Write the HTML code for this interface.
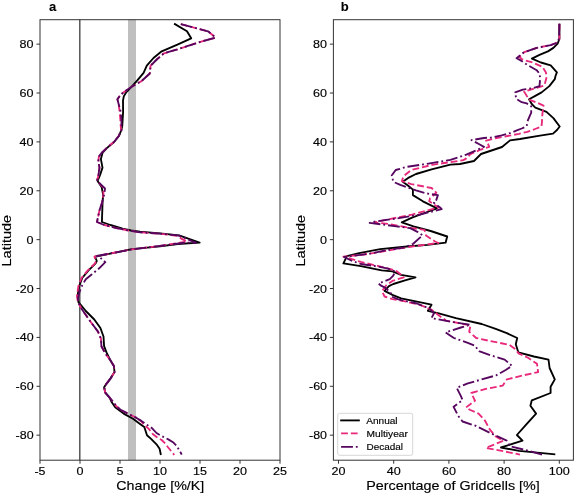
<!DOCTYPE html>
<html><head><meta charset="utf-8"><title>Latitude change</title>
<style>
html,body{margin:0;padding:0;background:#fff;width:575px;height:493px;overflow:hidden;}
svg{display:block;will-change:transform;}
text{font-family:"Liberation Sans",sans-serif;fill:#000;stroke:#000;stroke-width:0.15px;}
</style></head><body>
<svg width="575" height="493" viewBox="0 0 575 493">
<rect x="0" y="0" width="575" height="493" fill="#fff"/>
<rect x="128.0" y="19.7" width="8" height="440.5" fill="#bfbfbf"/>
<line x1="79.8" y1="19.7" x2="79.8" y2="460.2" stroke="#4a4a4a" stroke-width="1.4"/>
<g clip-path="url(#ca)">
<polyline points="174.1,23.6 187.0,31.3 191.2,38.3 177.4,44.7 161.7,51.3 153.5,58.0 146.8,65.7 143.6,72.8 137.3,80.4 131.7,86.7 126.2,92.3 123.8,96.4 123.0,100.6 123.1,111.7 122.3,125.7 121.4,129.9 118.9,136.0 114.1,142.0 106.8,148.1 102.5,153.0 100.9,159.1 102.5,167.6 100.1,174.9 97.6,181.0 101.7,187.3 103.1,194.6 102.5,204.3 101.9,222.0 110.4,225.0 122.6,228.7 131.1,230.5 140.0,231.7 160.0,233.3 179.1,235.4 199.6,242.6 177.7,244.0 160.0,246.3 131.8,249.2 98.0,256.1 95.0,256.7 96.8,261.0 95.6,263.4 88.3,270.7 82.2,278.0 79.1,286.5 77.5,296.2 78.5,302.3 79.7,303.7 85.8,311.0 94.3,319.5 100.4,328.0 103.5,336.5 104.1,346.2 106.5,352.3 110.8,361.1 113.9,366.0 114.5,372.0 110.8,378.1 106.6,383.6 104.1,387.3 105.3,392.7 109.6,397.6 111.8,402.3 115.2,407.3 123.6,413.6 133.0,418.8 140.0,423.9 144.3,427.0 145.7,431.3 147.0,435.2 151.3,439.1 156.5,444.3 159.6,448.7 160.9,455.0" fill="none" stroke="#000000" stroke-width="1.85" stroke-linejoin="round"/>
<polyline points="180.8,24.2 208.0,31.3 215.7,37.6 200.4,41.8 177.4,49.4 164.0,53.3 157.3,59.0 150.6,65.7 149.8,73.5 141.5,81.1 131.7,86.7 122.7,93.0 119.5,96.4 117.4,99.2 118.5,103.4 119.5,110.3 120.3,118.7 121.0,130.0 118.6,136.0 113.8,142.0 106.5,148.1 101.5,153.0 98.9,156.6 98.3,161.5 99.5,167.6 98.3,176.1 97.0,180.4 97.6,181.2 103.0,187.5 103.5,194.0 101.9,203.1 99.5,210.4 97.6,218.9 97.0,222.0 104.3,225.0 116.5,228.1 128.7,230.5 140.0,232.3 160.0,233.7 177.4,235.9 181.7,238.9 187.0,241.5 160.0,245.9 131.8,249.4 97.0,256.0 94.5,256.7 96.0,261.0 95.0,263.4 87.5,270.7 81.5,278.0 78.3,286.5 77.0,296.2 77.9,302.4 82.2,309.7 90.7,321.9 98.0,331.6 101.0,338.9 101.4,346.2 105.3,353.5 110.2,360.0 113.9,366.0 114.5,372.0 110.8,378.1 106.6,383.6 104.1,387.3 105.3,392.7 109.6,397.6 113.3,402.0 116.3,406.3 121.5,410.4 128.8,414.1 136.1,417.7 141.3,421.2 143.5,424.3 148.7,428.7 153.0,434.3 157.4,437.4 161.7,440.0 165.2,443.5 167.8,447.0 171.3,451.3 174.3,454.8" fill="none" stroke="#e8287a" stroke-width="1.85" stroke-linejoin="round" stroke-dasharray="6.8 2.94"/>
<polyline points="180.8,24.2 208.0,31.3 215.7,37.6 200.4,41.8 177.4,49.4 164.0,53.3 157.3,59.0 150.6,65.7 149.8,73.5 141.5,81.1 131.7,86.7 122.7,93.0 119.5,96.4 117.4,99.2 118.5,103.4 120.4,110.3 121.4,118.7 121.6,130.0 118.8,136.0 114.0,142.0 106.7,148.1 101.5,153.0 98.9,156.6 98.3,161.5 99.5,167.6 98.3,176.1 97.0,180.4 97.6,181.2 105.0,188.5 104.3,194.0 101.9,203.1 99.5,210.4 97.6,218.9 97.0,222.0 104.3,225.0 116.5,228.1 128.7,230.5 140.0,232.3 160.0,233.7 179.1,235.6 196.0,242.8 186.0,242.6 160.0,245.9 131.8,249.4 97.0,256.0 99.2,256.7 105.3,262.2 99.2,268.3 91.9,274.3 85.8,279.2 82.2,285.3 79.7,291.4 77.9,298.7 78.2,302.4 82.2,309.7 90.7,321.9 98.0,331.6 101.0,338.9 101.4,346.2 105.3,353.5 110.2,360.0 113.9,366.0 114.5,372.0 110.8,378.1 106.6,383.6 104.1,387.3 105.3,392.7 109.6,397.6 113.3,402.0 116.3,406.3 121.5,410.4 128.8,414.1 136.1,417.7 141.3,420.9 146.5,424.5 152.2,428.3 156.5,433.0 160.9,435.7 168.7,439.6 173.0,442.2 176.5,445.7 180.9,453.0 181.7,454.6" fill="none" stroke="#56065e" stroke-width="1.85" stroke-linejoin="round" stroke-dasharray="11.8 2.94 1.84 2.94"/>
</g>
<polyline points="559.4,23.8 559.4,38.9 557.6,43.7 553.4,47.9 547.9,51.4 539.5,54.9 531.9,58.6 540.9,62.5 550.7,65.3 556.9,72.3 555.5,76.0 554.8,79.2 549.3,86.1 541.6,92.4 535.3,95.9 529.1,99.3 531.9,104.2 535.3,107.7 546.5,111.9 553.4,118.1 559.7,126.5 557.0,130.0 553.0,133.6 540.0,135.6 520.0,139.0 510.0,140.4 502.0,147.0 481.0,154.0 474.0,161.0 460.0,164.0 450.4,164.6 431.6,169.3 416.0,174.0 408.2,177.9 402.7,181.8 408.2,185.7 412.9,189.6 412.9,195.1 422.9,201.3 437.0,208.3 424.5,213.0 412.0,217.7 401.8,222.4 413.5,226.3 430.7,231.0 447.2,236.5 445.6,242.7 427.6,244.8 407.0,246.5 380.2,249.2 359.1,253.2 346.9,256.1 343.4,263.3 360.8,266.1 381.7,270.3 392.4,271.3 401.1,274.8 415.5,277.3 405.0,280.3 393.3,284.0 388.9,286.1 384.6,290.9 392.4,294.8 401.1,298.3 414.5,301.1 431.5,304.7 427.9,310.8 438.8,313.3 455.9,318.1 481.7,324.0 495.7,328.9 506.8,333.1 517.2,338.0 515.8,344.2 518.3,352.3 533.9,356.5 548.5,359.6 549.6,368.0 554.8,379.4 550.6,386.7 550.6,393.0 531.8,400.3 530.4,405.7 536.1,413.6 525.9,424.9 516.9,435.0 522.5,440.7 501.0,447.5 519.1,450.9 555.3,454.3" fill="none" stroke="#000000" stroke-width="1.85" stroke-linejoin="round"/>
<polyline points="559.4,23.8 559.4,38.9 556.2,43.0 550.7,45.1 536.7,47.9 524.2,52.1 519.3,57.0 522.8,59.7 532.6,62.5 542.3,66.7 545.8,72.3 546.8,76.4 544.4,85.4 535.3,88.2 524.2,91.7 529.0,99.5 537.3,102.8 543.5,105.6 542.4,114.0 541.8,124.0 541.2,126.8 535.1,129.0 527.3,131.8 519.0,133.8 507.5,136.0 496.5,138.0 486.1,140.7 488.2,144.3 489.2,146.9 480.9,149.5 470.4,154.2 466.3,158.4 463.3,160.2 447.6,162.5 432.0,164.9 411.3,170.0 403.5,176.3 401.9,181.0 411.3,184.1 431.6,188.0 436.3,192.7 430.1,198.2 429.2,201.3 438.6,207.5 412.0,214.6 388.5,219.3 374.4,222.4 388.5,224.0 407.0,227.4 424.5,229.8 426.0,235.5 435.0,241.5 438.3,243.0 416.7,245.9 396.3,249.0 374.4,252.9 360.0,255.0 343.4,256.6 360.8,261.9 378.5,266.1 392.4,269.6 396.7,271.3 401.1,274.8 403.7,277.4 392.4,280.9 386.3,285.2 382.0,291.3 384.6,296.5 392.4,299.1 402.6,300.9 419.3,304.7 431.5,309.6 437.6,314.5 446.1,320.6 470.5,325.4 469.2,331.7 476.2,338.0 488.7,340.7 509.6,344.9 515.1,349.1 518.6,353.3 527.6,357.5 537.0,363.8 538.1,372.1 523.5,375.3 506.8,379.4 502.6,385.7 485.9,388.8 471.3,393.0 475.0,400.7 466.1,407.4 470.3,410.0 478.6,413.7 484.9,420.5 489.7,429.4 495.4,436.2 503.3,440.7 486.0,448.0 494.8,449.5 520.0,454.6" fill="none" stroke="#e8287a" stroke-width="1.85" stroke-linejoin="round" stroke-dasharray="6.8 2.94"/>
<polyline points="559.4,23.8 559.0,38.9 556.2,43.0 550.7,45.1 536.7,47.9 524.2,52.1 520.7,54.9 516.6,58.3 520.7,60.4 527.0,64.6 536.7,70.2 539.5,73.7 540.2,78.0 539.5,86.1 532.6,88.2 522.8,89.6 515.2,92.4 515.6,95.0 516.2,98.9 521.7,102.2 526.7,103.4 531.2,106.2 531.2,112.8 530.1,115.1 527.3,121.8 526.7,126.2 521.7,128.5 516.2,130.7 510.6,132.9 501.7,135.4 491.3,137.5 484.0,138.0 471.5,140.1 479.3,144.3 484.0,146.9 475.7,150.6 466.3,154.7 460.0,156.8 450.4,159.9 427.0,163.8 406.6,166.9 395.7,170.0 391.7,175.5 393.3,181.8 400.3,184.9 416.0,190.4 427.0,193.5 437.9,195.1 435.6,202.1 433.9,202.8 440.1,207.5 441.7,209.1 419.8,214.6 396.3,218.5 374.4,221.6 369.7,222.9 396.3,226.3 410.1,228.2 417.9,232.1 422.6,235.2 413.2,243.8 403.8,247.7 388.5,249.8 369.7,253.7 344.1,257.0 351.1,260.5 360.8,264.0 377.6,266.5 388.0,268.7 395.0,271.3 393.3,275.7 389.8,279.1 385.4,280.9 378.5,283.5 381.1,285.7 385.4,287.8 390.7,293.0 391.5,296.5 397.6,299.1 401.2,300.2 416.9,303.5 429.1,308.4 434.0,313.3 431.5,318.1 451.0,321.8 470.5,324.7 460.9,327.5 445.6,332.4 449.7,335.2 453.9,338.0 467.8,342.8 474.8,345.6 479.0,351.2 488.7,354.7 504.7,359.6 512.0,365.9 505.7,370.0 496.3,375.3 481.7,379.4 467.1,383.6 456.7,387.8 460.9,396.1 462.6,400.0 453.6,406.8 458.1,415.8 462.6,421.5 476.2,426.0 492.0,433.9 506.7,440.7 510.1,446.3 528.8,450.9 542.1,454.6" fill="none" stroke="#56065e" stroke-width="1.85" stroke-linejoin="round" stroke-dasharray="11.8 2.94 1.84 2.94"/>
<rect x="40.0" y="19.7" width="240.0" height="440.5" fill="none" stroke="#333" stroke-width="1.00"/>
<rect x="333.4" y="19.7" width="240.0" height="440.5" fill="none" stroke="#333" stroke-width="1.00"/>
<text x="33.6" y="439.17" text-anchor="end" font-size="11" textLength="18.0" lengthAdjust="spacingAndGlyphs">-80</text>
<text x="327.0" y="439.17" text-anchor="end" font-size="11" textLength="18.0" lengthAdjust="spacingAndGlyphs">-80</text>
<text x="33.6" y="390.29" text-anchor="end" font-size="11" textLength="18.0" lengthAdjust="spacingAndGlyphs">-60</text>
<text x="327.0" y="390.29" text-anchor="end" font-size="11" textLength="18.0" lengthAdjust="spacingAndGlyphs">-60</text>
<text x="33.6" y="341.41" text-anchor="end" font-size="11" textLength="18.0" lengthAdjust="spacingAndGlyphs">-40</text>
<text x="327.0" y="341.41" text-anchor="end" font-size="11" textLength="18.0" lengthAdjust="spacingAndGlyphs">-40</text>
<text x="33.6" y="292.53" text-anchor="end" font-size="11" textLength="18.0" lengthAdjust="spacingAndGlyphs">-20</text>
<text x="327.0" y="292.53" text-anchor="end" font-size="11" textLength="18.0" lengthAdjust="spacingAndGlyphs">-20</text>
<text x="33.6" y="243.65" text-anchor="end" font-size="11" textLength="7.0" lengthAdjust="spacingAndGlyphs">0</text>
<text x="327.0" y="243.65" text-anchor="end" font-size="11" textLength="7.0" lengthAdjust="spacingAndGlyphs">0</text>
<text x="33.6" y="194.77" text-anchor="end" font-size="11" textLength="14.0" lengthAdjust="spacingAndGlyphs">20</text>
<text x="327.0" y="194.77" text-anchor="end" font-size="11" textLength="14.0" lengthAdjust="spacingAndGlyphs">20</text>
<text x="33.6" y="145.89" text-anchor="end" font-size="11" textLength="14.0" lengthAdjust="spacingAndGlyphs">40</text>
<text x="327.0" y="145.89" text-anchor="end" font-size="11" textLength="14.0" lengthAdjust="spacingAndGlyphs">40</text>
<text x="33.6" y="97.01" text-anchor="end" font-size="11" textLength="14.0" lengthAdjust="spacingAndGlyphs">60</text>
<text x="327.0" y="97.01" text-anchor="end" font-size="11" textLength="14.0" lengthAdjust="spacingAndGlyphs">60</text>
<text x="33.6" y="48.13" text-anchor="end" font-size="11" textLength="14.0" lengthAdjust="spacingAndGlyphs">80</text>
<text x="327.0" y="48.13" text-anchor="end" font-size="11" textLength="14.0" lengthAdjust="spacingAndGlyphs">80</text>
<text x="40.00" y="475.0" text-anchor="middle" font-size="11" textLength="11.0" lengthAdjust="spacingAndGlyphs">-5</text>
<text x="80.00" y="475.0" text-anchor="middle" font-size="11" textLength="7.0" lengthAdjust="spacingAndGlyphs">0</text>
<text x="120.00" y="475.0" text-anchor="middle" font-size="11" textLength="7.0" lengthAdjust="spacingAndGlyphs">5</text>
<text x="160.00" y="475.0" text-anchor="middle" font-size="11" textLength="14.0" lengthAdjust="spacingAndGlyphs">10</text>
<text x="200.00" y="475.0" text-anchor="middle" font-size="11" textLength="14.0" lengthAdjust="spacingAndGlyphs">15</text>
<text x="240.00" y="475.0" text-anchor="middle" font-size="11" textLength="14.0" lengthAdjust="spacingAndGlyphs">20</text>
<text x="280.00" y="475.0" text-anchor="middle" font-size="11" textLength="14.0" lengthAdjust="spacingAndGlyphs">25</text>
<text x="338.50" y="475.0" text-anchor="middle" font-size="11" textLength="14.0" lengthAdjust="spacingAndGlyphs">20</text>
<text x="393.70" y="475.0" text-anchor="middle" font-size="11" textLength="14.0" lengthAdjust="spacingAndGlyphs">40</text>
<text x="448.90" y="475.0" text-anchor="middle" font-size="11" textLength="14.0" lengthAdjust="spacingAndGlyphs">60</text>
<text x="504.10" y="475.0" text-anchor="middle" font-size="11" textLength="14.0" lengthAdjust="spacingAndGlyphs">80</text>
<text x="559.30" y="475.0" text-anchor="middle" font-size="11" textLength="21.0" lengthAdjust="spacingAndGlyphs">100</text>
<g stroke="#333" stroke-width="1"><line x1="36.5" y1="435.17" x2="40.0" y2="435.17"/><line x1="329.9" y1="435.17" x2="333.4" y2="435.17"/><line x1="36.5" y1="386.29" x2="40.0" y2="386.29"/><line x1="329.9" y1="386.29" x2="333.4" y2="386.29"/><line x1="36.5" y1="337.41" x2="40.0" y2="337.41"/><line x1="329.9" y1="337.41" x2="333.4" y2="337.41"/><line x1="36.5" y1="288.53" x2="40.0" y2="288.53"/><line x1="329.9" y1="288.53" x2="333.4" y2="288.53"/><line x1="36.5" y1="239.65" x2="40.0" y2="239.65"/><line x1="329.9" y1="239.65" x2="333.4" y2="239.65"/><line x1="36.5" y1="190.77" x2="40.0" y2="190.77"/><line x1="329.9" y1="190.77" x2="333.4" y2="190.77"/><line x1="36.5" y1="141.89" x2="40.0" y2="141.89"/><line x1="329.9" y1="141.89" x2="333.4" y2="141.89"/><line x1="36.5" y1="93.01" x2="40.0" y2="93.01"/><line x1="329.9" y1="93.01" x2="333.4" y2="93.01"/><line x1="36.5" y1="44.13" x2="40.0" y2="44.13"/><line x1="329.9" y1="44.13" x2="333.4" y2="44.13"/><line x1="40.00" y1="460.2" x2="40.00" y2="463.7"/><line x1="80.00" y1="460.2" x2="80.00" y2="463.7"/><line x1="120.00" y1="460.2" x2="120.00" y2="463.7"/><line x1="160.00" y1="460.2" x2="160.00" y2="463.7"/><line x1="200.00" y1="460.2" x2="200.00" y2="463.7"/><line x1="240.00" y1="460.2" x2="240.00" y2="463.7"/><line x1="280.00" y1="460.2" x2="280.00" y2="463.7"/><line x1="338.50" y1="460.2" x2="338.50" y2="463.7"/><line x1="393.70" y1="460.2" x2="393.70" y2="463.7"/><line x1="448.90" y1="460.2" x2="448.90" y2="463.7"/><line x1="504.10" y1="460.2" x2="504.10" y2="463.7"/><line x1="559.30" y1="460.2" x2="559.30" y2="463.7"/></g>
<text x="160.3" y="489.8" text-anchor="middle" font-size="13.2" textLength="88" lengthAdjust="spacingAndGlyphs">Change [%/K]</text>
<text x="453" y="489.8" text-anchor="middle" font-size="13.2" textLength="173.5" lengthAdjust="spacingAndGlyphs">Percentage of Gridcells [%]</text>
<text transform="translate(11.1,240.7) rotate(-90)" text-anchor="middle" font-size="13.2" textLength="51.5" lengthAdjust="spacingAndGlyphs">Latitude</text>
<text transform="translate(305.1,240.7) rotate(-90)" text-anchor="middle" font-size="13.2" textLength="51.5" lengthAdjust="spacingAndGlyphs">Latitude</text>
<text x="48.9" y="11.4" font-size="13" font-weight="bold" style="stroke-width:0.1px">a</text>
<text x="340.7" y="11.0" font-size="13" font-weight="bold" style="stroke-width:0.1px">b</text>
<rect x="337.7" y="413.3" width="75" height="42" rx="2" ry="2" fill="#fff" fill-opacity="0.8" stroke="#d6d6d6" stroke-width="1"/>
<line x1="340.2" y1="420.4" x2="359.8" y2="420.4" stroke="#000000" stroke-width="1.85"/>
<line x1="341.1" y1="433.3" x2="359.8" y2="433.3" stroke="#e8287a" stroke-width="1.85" stroke-dasharray="6.8 2.94"/>
<line x1="341.1" y1="446.8" x2="359.8" y2="446.8" stroke="#56065e" stroke-width="1.85" stroke-dasharray="11.8 2.94 1.84 2.94"/>
<text x="366.2" y="423.9" font-size="9.2" textLength="31.4" lengthAdjust="spacingAndGlyphs">Annual</text>
<text x="366.6" y="436.6" font-size="9.2" textLength="41.3" lengthAdjust="spacingAndGlyphs">Multiyear</text>
<text x="366.6" y="449.6" font-size="9.2" textLength="36.5" lengthAdjust="spacingAndGlyphs">Decadal</text>
<defs><clipPath id="ca"><rect x="40.0" y="19.7" width="240.0" height="440.5"/></clipPath></defs>
</svg>
</body></html>
